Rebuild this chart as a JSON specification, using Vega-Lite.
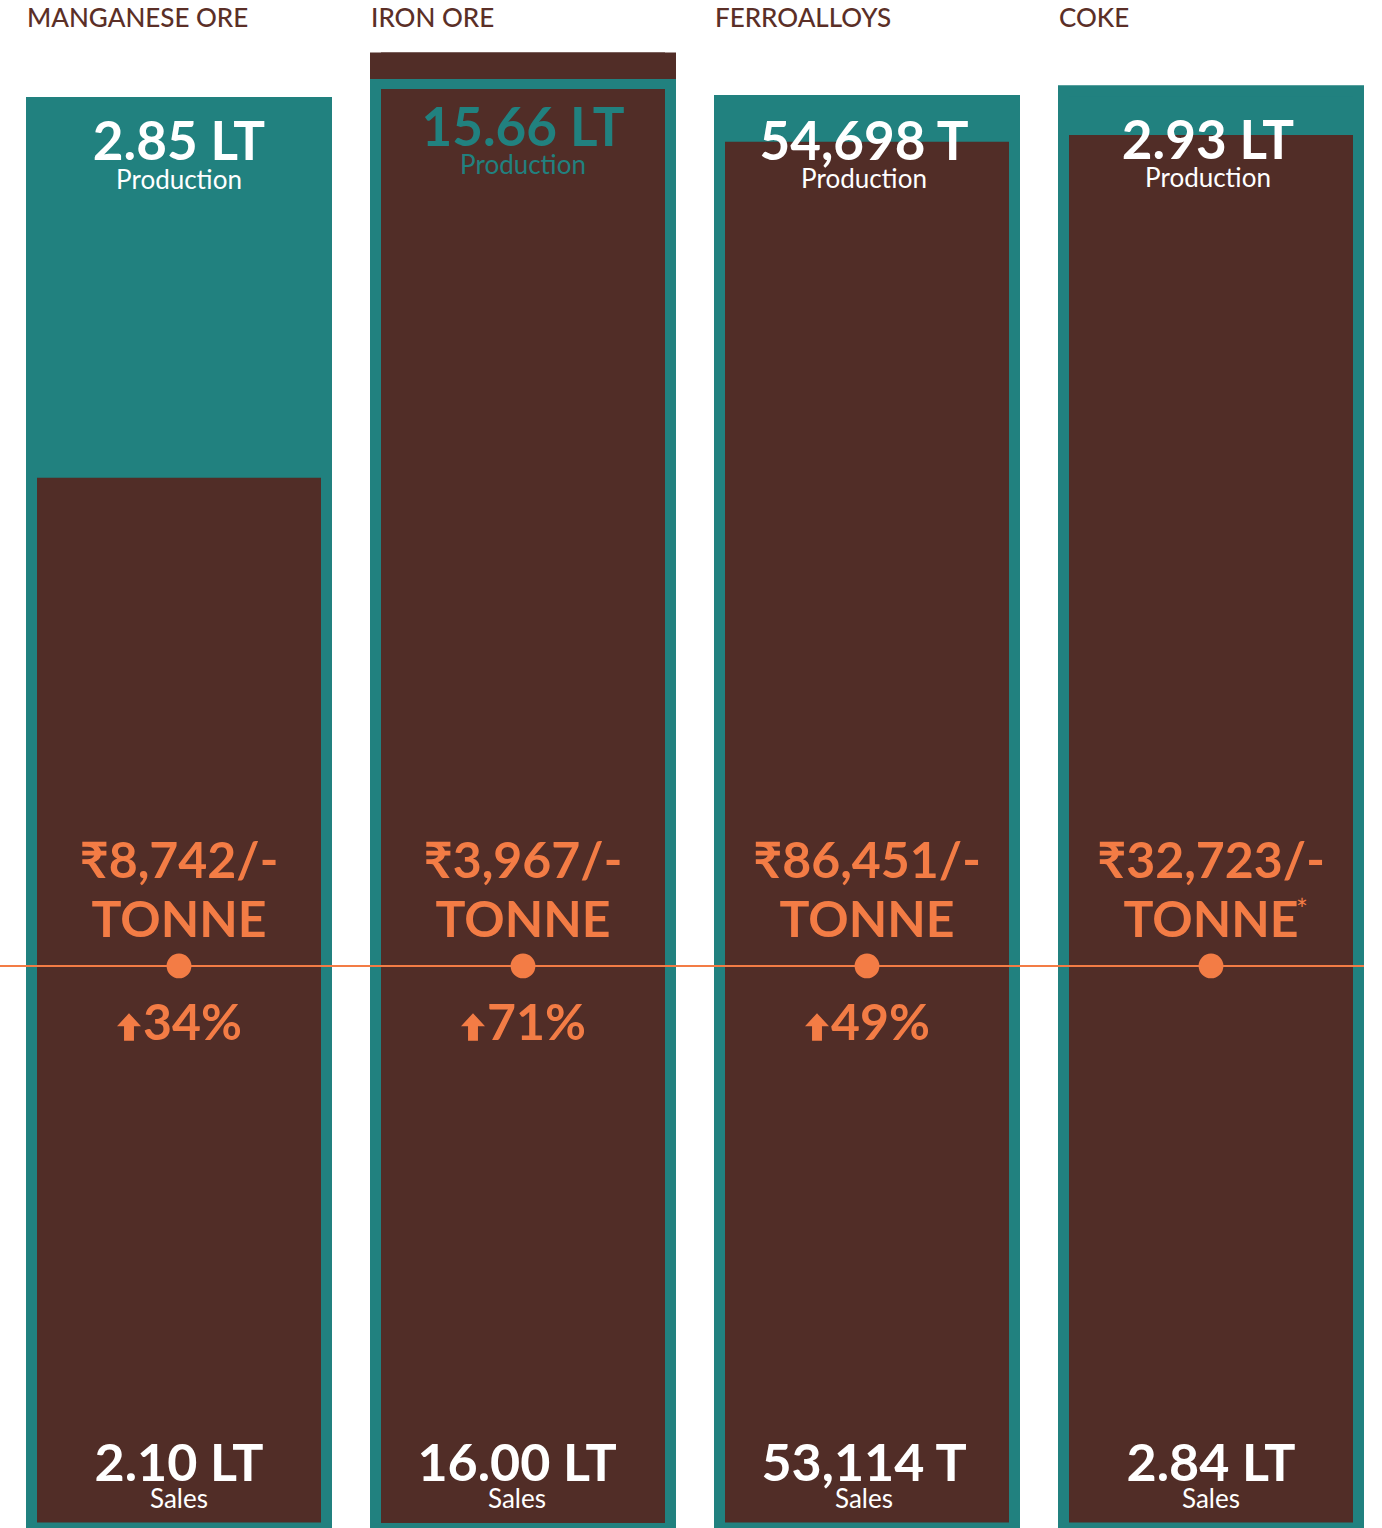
{
  "$schema": "https://vega.github.io/schema/vega-lite/v6.json",
  "width": 1364,
  "height": 1481,
  "autosize": "none",
  "padding": {"top": 47, "left": 0, "right": 0, "bottom": 0},
  "background": "white",
  "config": {"view": {"stroke": null}, "font": "Lato"},
  "data": {
    "values": [
      {"category": "MANGANESE ORE", "production": 2.85, "sales": 2.10, "prodLabel": "2.85 LT", "salesLabel": "2.10 LT", "price": "₹8,742/-", "change": "34%", "note": ""},
      {"category": "IRON ORE", "production": 15.66, "sales": 16.00, "prodLabel": "15.66 LT", "salesLabel": "16.00 LT", "price": "₹3,967/-", "change": "71%", "note": ""},
      {"category": "FERROALLOYS", "production": 54698, "sales": 53114, "prodLabel": "54,698 T", "salesLabel": "53,114 T", "price": "₹86,451/-", "change": "49%", "note": ""},
      {"category": "COKE", "production": 2.93, "sales": 2.84, "prodLabel": "2.93 LT", "salesLabel": "2.84 LT", "price": "₹32,723/-", "change": "", "note": "*"}
    ]
  },
  "layer": [
    {
      "transform": [{"filter": "datum.category === 'MANGANESE ORE'"}],
      "encoding": {"x": {"field": "category", "type": "nominal", "scale": {"domain": ["MANGANESE ORE", "IRON ORE", "FERROALLOYS", "COKE"], "paddingInner": 0.11047, "paddingOuter": 0.037795, "align": 1}, "axis": null}},
      "layer": [
        {"mark": {"type": "bar", "color": "#512d27", "width": {"band": 1}}, "encoding": {"y": {"field": "sales", "type": "quantitative", "scale": {"domain": [0, 2.961], "nice": false, "zero": true}, "axis": null}}},
        {"mark": {"type": "bar", "color": "#21817f", "width": {"band": 1}}, "encoding": {"y": {"field": "production", "type": "quantitative"}}},
        {"mark": {"type": "bar", "color": "#512d27", "width": 284}, "encoding": {"y": {"field": "sales", "type": "quantitative"}}},
        {"mark": {"type": "bar", "filled": false, "stroke": "#21817f", "strokeWidth": 11, "width": 295}, "encoding": {"y": {"field": "production", "type": "quantitative"}}},
        {"mark": {"type": "text", "fontSize": 53, "fontWeight": 700, "color": "white", "baseline": "alphabetic", "dy": 57.5}, "encoding": {"y": {"field": "production", "type": "quantitative"}, "text": {"field": "prodLabel"}}},
        {"mark": {"type": "text", "fontSize": 26, "color": "white", "baseline": "alphabetic", "dy": 86.5, "text": "Production"}, "encoding": {"y": {"field": "production", "type": "quantitative"}}},
        {"mark": {"type": "text", "fontSize": 52, "fontWeight": 700, "color": "white", "baseline": "alphabetic", "dy": -47}, "encoding": {"y": {"datum": 0, "type": "quantitative"}, "text": {"field": "salesLabel"}}},
        {"mark": {"type": "text", "fontSize": 26, "color": "white", "baseline": "alphabetic", "dy": -20, "text": "Sales"}, "encoding": {"y": {"datum": 0, "type": "quantitative"}}}
      ]
    },
    {
      "transform": [{"filter": "datum.category === 'IRON ORE'"}],
      "encoding": {"x": {"field": "category", "type": "nominal", "scale": {"domain": ["MANGANESE ORE", "IRON ORE", "FERROALLOYS", "COKE"], "paddingInner": 0.11047, "paddingOuter": 0.037795, "align": 1}, "axis": null}},
      "layer": [
        {"mark": {"type": "bar", "color": "#512d27", "width": {"band": 1}}, "encoding": {"y": {"field": "sales", "type": "quantitative", "scale": {"domain": [0, 16.06], "nice": false, "zero": true}, "axis": null}}},
        {"mark": {"type": "bar", "color": "#21817f", "width": {"band": 1}}, "encoding": {"y": {"field": "production", "type": "quantitative"}}},
        {"mark": {"type": "bar", "color": "#512d27", "width": 284}, "encoding": {"y": {"field": "sales", "type": "quantitative"}}},
        {"mark": {"type": "bar", "filled": false, "stroke": "#21817f", "strokeWidth": 10, "width": 296}, "encoding": {"y": {"field": "production", "type": "quantitative"}}},
        {"mark": {"type": "text", "fontSize": 53, "fontWeight": 700, "color": "#21817f", "baseline": "alphabetic", "dy": 62}, "encoding": {"y": {"field": "production", "type": "quantitative"}, "text": {"field": "prodLabel"}}},
        {"mark": {"type": "text", "fontSize": 26, "color": "#21817f", "baseline": "alphabetic", "dy": 90, "text": "Production"}, "encoding": {"y": {"field": "production", "type": "quantitative"}}},
        {"mark": {"type": "text", "fontSize": 52, "fontWeight": 700, "color": "white", "baseline": "alphabetic", "dy": -47, "dx": -6}, "encoding": {"y": {"datum": 0, "type": "quantitative"}, "text": {"field": "salesLabel"}}},
        {"mark": {"type": "text", "fontSize": 26, "color": "white", "baseline": "alphabetic", "dy": -20, "dx": -6, "text": "Sales"}, "encoding": {"y": {"datum": 0, "type": "quantitative"}}}
      ]
    },
    {
      "transform": [{"filter": "datum.category === 'FERROALLOYS'"}],
      "encoding": {"x": {"field": "category", "type": "nominal", "scale": {"domain": ["MANGANESE ORE", "IRON ORE", "FERROALLOYS", "COKE"], "paddingInner": 0.11047, "paddingOuter": 0.037795, "align": 1}, "axis": null}},
      "layer": [
        {"mark": {"type": "bar", "color": "#512d27", "width": {"band": 1}}, "encoding": {"y": {"field": "sales", "type": "quantitative", "scale": {"domain": [0, 56748], "nice": false, "zero": true}, "axis": null}}},
        {"mark": {"type": "bar", "color": "#21817f", "width": {"band": 1}}, "encoding": {"y": {"field": "production", "type": "quantitative"}}},
        {"mark": {"type": "bar", "color": "#512d27", "width": 284}, "encoding": {"y": {"field": "sales", "type": "quantitative"}}},
        {"mark": {"type": "bar", "filled": false, "stroke": "#21817f", "strokeWidth": 11, "width": 295}, "encoding": {"y": {"field": "production", "type": "quantitative"}}},
        {"mark": {"type": "text", "fontSize": 53, "fontWeight": 700, "color": "white", "baseline": "alphabetic", "dy": 59.5, "dx": -3}, "encoding": {"y": {"field": "production", "type": "quantitative"}, "text": {"field": "prodLabel"}}},
        {"mark": {"type": "text", "fontSize": 26, "color": "white", "baseline": "alphabetic", "dy": 87.5, "dx": -3, "text": "Production"}, "encoding": {"y": {"field": "production", "type": "quantitative"}}},
        {"mark": {"type": "text", "fontSize": 52, "fontWeight": 700, "color": "white", "baseline": "alphabetic", "dy": -47, "dx": -3}, "encoding": {"y": {"datum": 0, "type": "quantitative"}, "text": {"field": "salesLabel"}}},
        {"mark": {"type": "text", "fontSize": 26, "color": "white", "baseline": "alphabetic", "dy": -20, "dx": -3, "text": "Sales"}, "encoding": {"y": {"datum": 0, "type": "quantitative"}}}
      ]
    },
    {
      "transform": [{"filter": "datum.category === 'COKE'"}],
      "encoding": {"x": {"field": "category", "type": "nominal", "scale": {"domain": ["MANGANESE ORE", "IRON ORE", "FERROALLOYS", "COKE"], "paddingInner": 0.11047, "paddingOuter": 0.037795, "align": 1}, "axis": null}},
      "layer": [
        {"mark": {"type": "bar", "color": "#512d27", "width": {"band": 1}}, "encoding": {"y": {"field": "sales", "type": "quantitative", "scale": {"domain": [0, 3.0194], "nice": false, "zero": true}, "axis": null}}},
        {"mark": {"type": "bar", "color": "#21817f", "width": {"band": 1}}, "encoding": {"y": {"field": "production", "type": "quantitative"}}},
        {"mark": {"type": "bar", "color": "#512d27", "width": 284}, "encoding": {"y": {"field": "sales", "type": "quantitative"}}},
        {"mark": {"type": "bar", "filled": false, "stroke": "#21817f", "strokeWidth": 11, "width": 295}, "encoding": {"y": {"field": "production", "type": "quantitative"}}},
        {"mark": {"type": "text", "fontSize": 53, "fontWeight": 700, "color": "white", "baseline": "alphabetic", "dy": 68.5, "dx": -3}, "encoding": {"y": {"field": "production", "type": "quantitative"}, "text": {"field": "prodLabel"}}},
        {"mark": {"type": "text", "fontSize": 26, "color": "white", "baseline": "alphabetic", "dy": 96.5, "dx": -3, "text": "Production"}, "encoding": {"y": {"field": "production", "type": "quantitative"}}},
        {"mark": {"type": "text", "fontSize": 52, "fontWeight": 700, "color": "white", "baseline": "alphabetic", "dy": -47}, "encoding": {"y": {"datum": 0, "type": "quantitative"}, "text": {"field": "salesLabel"}}},
        {"mark": {"type": "text", "fontSize": 26, "color": "white", "baseline": "alphabetic", "dy": -20, "text": "Sales"}, "encoding": {"y": {"datum": 0, "type": "quantitative"}}}
      ]
    },
    {
      "encoding": {"x": {"field": "category", "type": "nominal", "scale": {"domain": ["MANGANESE ORE", "IRON ORE", "FERROALLOYS", "COKE"], "paddingInner": 0.11047, "paddingOuter": 0.037795, "align": 1}, "axis": null}},
      "layer": [
        {"data": {"values": [{"line": "price level"}]}, "mark": {"type": "rule", "color": "#f37c45", "strokeWidth": 2}, "encoding": {"x": null, "y": {"datum": 0.3795, "type": "quantitative", "scale": {"domain": [0, 1], "nice": false}, "axis": null}}},
        {"mark": {"type": "text", "fontSize": 26, "fontWeight": 500, "color": "#5b2f27", "align": "left", "baseline": "alphabetic", "dx": 1}, "encoding": {"x": {"field": "category", "type": "nominal", "bandPosition": 0}, "y": {"datum": 1.01351, "type": "quantitative"}, "text": {"field": "category"}}},
        {"mark": {"type": "point", "filled": true, "color": "#f37c45", "size": 616, "opacity": 1}, "encoding": {"y": {"datum": 0.3795, "type": "quantitative"}}},
        {"mark": {"type": "text", "fontSize": 50, "fontWeight": 700, "color": "#f37c45", "baseline": "alphabetic", "dy": -88}, "encoding": {"y": {"datum": 0.3795, "type": "quantitative"}, "text": {"field": "price"}}},
        {"mark": {"type": "text", "fontSize": 50, "fontWeight": 700, "color": "#f37c45", "baseline": "alphabetic", "dy": -29, "text": "TONNE"}, "encoding": {"y": {"datum": 0.3795, "type": "quantitative"}}},
        {"mark": {"type": "text", "fontSize": 28, "color": "#f37c45", "baseline": "middle", "dy": -54, "dx": 91}, "encoding": {"y": {"datum": 0.3795, "type": "quantitative"}, "text": {"field": "note"}}},
        {"transform": [{"filter": "datum.change !== ''"}], "mark": {"type": "point", "filled": true, "color": "#f37c45", "opacity": 1, "size": 760, "shape": "M0,-1L0.87,-0.05L0.36,-0.05L0.36,1L-0.36,1L-0.36,-0.05L-0.87,-0.05Z", "xOffset": -50, "yOffset": 61}, "encoding": {"y": {"datum": 0.3795, "type": "quantitative"}}},
        {"mark": {"type": "text", "fontSize": 50, "fontWeight": 700, "color": "#f37c45", "align": "left", "baseline": "alphabetic", "dy": 74, "dx": -36}, "encoding": {"y": {"datum": 0.3795, "type": "quantitative"}, "text": {"field": "change"}}}
      ]
    }
  ],
  "resolve": {"scale": {"y": "independent"}}
}
